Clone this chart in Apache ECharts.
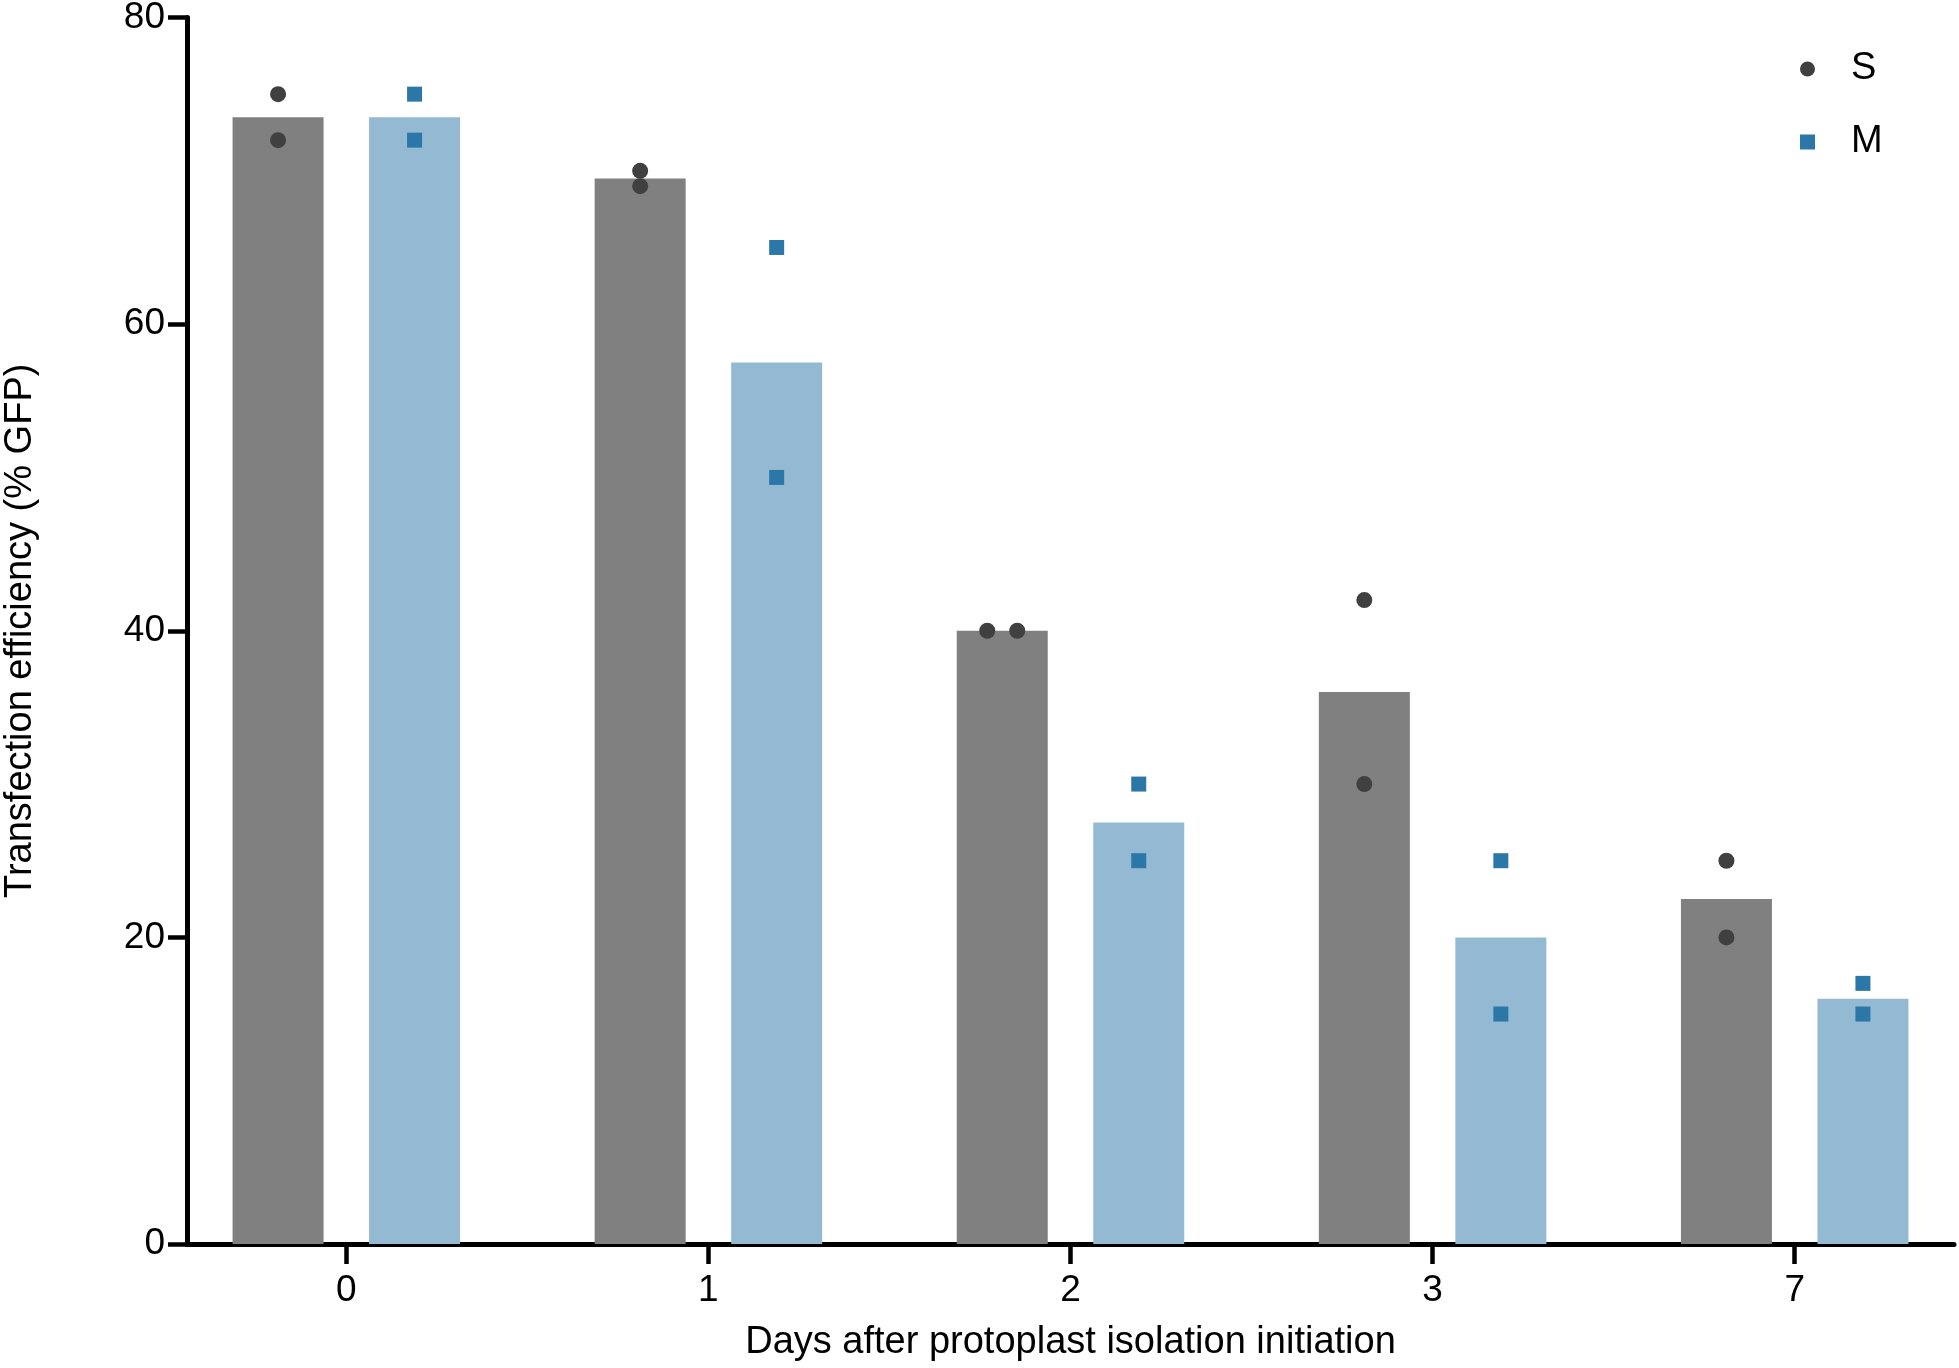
<!DOCTYPE html>
<html>
<head>
<meta charset="utf-8">
<script src="https://cdn.jsdelivr.net/npm/echarts@6/dist/echarts.min.js"></script>
<style>html,body{margin:0;padding:0;background:#fff}#c{width:1959px;height:1368px}</style>
</head>
<body>
<div id="c"></div>
<script>
// ---- data ----
const days = ['0', '1', '2', '3', '7'];
const sMean = [73.5, 69.5, 40, 36, 22.5];
const mMean = [73.5, 57.5, 27.5, 20, 16];
const sRep1 = [75, 70, 40, 42, 25];
const sRep2 = [72, 69, 40, 30, 20];
const mRep1 = [75, 65, 30, 25, 17];
const mRep2 = [72, 50, 25, 15, 15];
const yTicks = [0, 20, 40, 60, 80];

// ---- styling ----
const FONT = '"Liberation Sans", Arial, Helvetica, sans-serif';
const BAR_W = 91;
const BAR_GAP = 0.5;
const DODGE = (BAR_W + BAR_W * BAR_GAP) / 2;   // px from category center to each bar center
const JITTER = 15;                               // px spread when replicates coincide

function bars(vals) { return vals.map((v, i) => [i, v]); }
function points(r1, r2, side) {
  const out = [];
  r1.forEach((v, i) => {
    const same = v === r2[i];
    out.push({ value: [i, v], symbolOffset: [side * DODGE - (same ? JITTER : 0), 0] });
    out.push({ value: [i, r2[i]], symbolOffset: [side * DODGE + (same ? JITTER : 0), 0] });
  });
  return out;
}

const chart = echarts.init(document.getElementById('c'), null, { renderer: 'canvas' });
chart.setOption({
  animation: false,
  backgroundColor: '#fff',
  textStyle: { fontFamily: FONT },
  grid: { left: 187, right: 5, top: 17.5, bottom: 124, containLabel: false, outerBoundsMode: 'none' },
  legend: {
    data: ['S', 'M'],
    orient: 'vertical',
    left: 1800, top: 50,
    padding: 0,
    itemWidth: 15, itemHeight: 15, itemGap: 35,
    selectedMode: false,
    textStyle: { fontSize: 38, color: '#000', fontFamily: FONT, padding: [0, 0, 0, 31] }
  },
  xAxis: {
    type: 'value',
    min: -0.44, max: 4.44,
    name: 'Days after protoplast isolation initiation',
    nameLocation: 'middle', nameGap: 80,
    nameTextStyle: { fontSize: 38, color: '#000', fontFamily: FONT },
    axisLine: { show: true, onZero: true, lineStyle: { color: '#000', width: 5 } },
    axisTick: { show: true, length: 20, customValues: [0, 1, 2, 3, 4], lineStyle: { color: '#000', width: 4.5 } },
    axisLabel: { customValues: [0, 1, 2, 3, 4], formatter: v => days[Math.round(v)], fontSize: 37, color: '#000', margin: 28, fontFamily: FONT },
    splitLine: { show: false }
  },
  yAxis: {
    type: 'value',
    min: 0, max: 80, interval: 20,
    name: 'Transfection efficiency (% GFP)',
    nameLocation: 'middle', nameGap: 147,
    nameTextStyle: { fontSize: 38, color: '#000', fontFamily: FONT },
    axisLine: { show: true, onZero: false, lineStyle: { color: '#000', width: 5 } },
    axisTick: { show: true, length: 19, lineStyle: { color: '#000', width: 4.5 } },
    axisLabel: { fontSize: 37, color: '#000', margin: 22, fontFamily: FONT,
                 formatter: v => yTicks.includes(v) ? String(v) : '' },
    splitLine: { show: false }
  },
  series: [
    { name: 'S mean', type: 'bar', data: bars(sMean), barWidth: BAR_W, barGap: (BAR_GAP * 100) + '%',
      itemStyle: { color: '#808080' }, z: 1 },
    { name: 'M mean', type: 'bar', data: bars(mMean), barWidth: BAR_W, barGap: (BAR_GAP * 100) + '%',
      itemStyle: { color: '#93bad2' }, z: 1 },
    { name: 'S', type: 'scatter', symbol: 'circle', symbolSize: 16, data: points(sRep1, sRep2, -1),
      itemStyle: { color: '#404040', opacity: 1 }, z: 3 },
    { name: 'M', type: 'scatter', symbol: 'rect', symbolSize: 15, data: points(mRep1, mRep2, 1),
      itemStyle: { color: '#2a77a8', opacity: 1 }, z: 3 }
  ]
});
</script>
</body>
</html>
